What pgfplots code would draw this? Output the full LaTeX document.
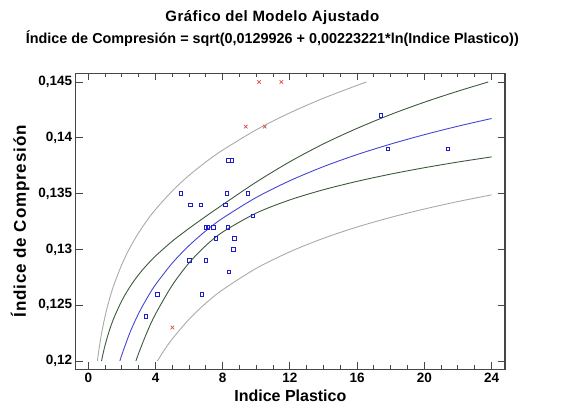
\documentclass[border=0pt]{standalone}
\usepackage{fontspec}
\setmainfont{Liberation Sans}
\usepackage{pgfplots}
\pgfplotsset{compat=1.18}
\definecolor{predgray}{RGB}{170,170,170}
\definecolor{confgreen}{RGB}{60,90,60}
\definecolor{fitblue}{RGB}{70,70,210}
\definecolor{ptblue}{RGB}{30,30,200}
\definecolor{ptred}{RGB}{220,80,80}
\definecolor{framegray}{RGB}{70,70,70}
\begin{document}
\begin{tikzpicture}
\begin{axis}[
  scale only axis,
  width=429.3pt, height=296pt,
  xmin=-0.75, xmax=24.8,
  ymin=0.11926, ymax=0.14578,
  axis line style={framegray, line width=1.2pt},
  tick style={framegray, line width=1pt},
  tick align=inside,
  major tick length=7pt,
  minor tick length=4pt,
  xtick={0,4,8,12,16,20,24},
  xticklabels={0,4,8,12,16,20,24},
  minor x tick num=3,
  ytick={0.12,0.125,0.13,0.135,0.14,0.145},
  yticklabels={{0,12},{0,125},{0,13},{0,135},{0,14},{0,145}},
  xticklabel pos=left, yticklabel pos=left,
  xtick pos=both, ytick pos=both,
  ticklabel style={font=\bfseries\fontsize{13.5}{15}\selectfont},
  xlabel={Indice Plastico},
  ylabel={\addfontfeature{LetterSpace=5}Índice de Compresión},
  xlabel style={font=\bfseries\fontsize{16}{18}\selectfont, yshift=-1pt},
  ylabel style={font=\bfseries\fontsize{17}{19}\selectfont, yshift=2pt},
  title={{\fontsize{15}{22.5}\selectfont\addfontfeature{LetterSpace=3}Gráfico del Modelo Ajustado}\\Índice de Compresión = sqrt(0,0129926 + 0,00223221*ln(Indice Plastico))},
  title style={font=\bfseries\fontsize{14.4}{22.5}\selectfont, align=center, xshift=-18pt, yshift=17pt},
  clip=true,
]
% upper prediction limit
\addplot[predgray, line width=0.9pt, smooth] coordinates {
 (0.544,0.12) (0.6,0.12067) (0.7,0.12168) (0.8,0.12256) (0.9,0.12333) (1.0,0.12403)
 (1.2,0.12523) (1.5,0.12672) (2,0.12867) (2.5,0.13022) (3,0.13150) (3.5,0.13261)
 (4,0.13358) (5,0.13524) (6,0.13664) (7,0.13784) (8,0.13890) (10,0.14072)
 (12,0.14224) (14,0.14355) (16,0.14470) (16.56,0.145)
};
% lower prediction limit
\addplot[predgray, line width=0.9pt, smooth] coordinates {
 (4.114,0.12) (4.5,0.12093) (5,0.12198) (6,0.12375) (7,0.12519) (8,0.12639)
 (10,0.12831) (12,0.12979) (14,0.13100) (16,0.13201) (18,0.13287) (20,0.13362)
 (22,0.13429) (24,0.13489)
};
% upper confidence limit
\addplot[confgreen, line width=0.9pt, smooth] coordinates {
 (0.787,0.12) (0.8,0.12011) (0.9,0.12080) (1.0,0.12142) (1.2,0.12248) (1.5,0.12377)
 (2,0.12542) (2.5,0.12670) (3,0.12775) (3.5,0.12863) (4,0.12941) (5,0.13074)
 (6,0.13189) (7,0.13297) (8,0.13401) (10,0.13604) (12,0.13786) (14,0.13946)
 (16,0.14085) (18,0.14209) (20,0.14319) (22,0.14418) (23.80,0.145)
};
% lower confidence limit
\addplot[confgreen, line width=0.9pt, smooth] coordinates {
 (2.834,0.12) (3,0.12071) (3.5,0.12260) (4,0.12421) (5,0.12680) (6,0.12880)
 (7,0.13035) (8,0.13156) (10,0.13326) (12,0.13444) (14,0.13535) (16,0.13610)
 (18,0.13675) (20,0.13732) (22,0.13783) (24,0.13829)
};
% fitted model
\addplot[fitblue, line width=0.9pt, smooth] coordinates {
 (1.879,0.12) (2,0.12058) (2.5,0.12263) (3,0.12428) (3.5,0.12565) (4,0.12684)
 (5,0.12878) (6,0.13035) (7,0.13167) (8,0.13280) (10,0.13466) (12,0.13616)
 (14,0.13742) (16,0.13850) (18,0.13944) (20,0.14028) (22,0.14104) (24,0.14173)
};
% observations
\addplot[only marks, mark=square, mark size=1.8pt, ptblue, mark options={line width=0.7pt}] coordinates {
 (8.35,0.138) (8.55,0.138) (5.5,0.135) (8.24,0.135) (9.49,0.135)
 (6.07,0.134) (6.69,0.134) (8.14,0.134) (9.79,0.133)
 (6.99,0.132) (7.11,0.132) (7.44,0.132) (8.30,0.132)
 (7.60,0.131) (8.69,0.131) (8.63,0.130) (6.03,0.129) (6.99,0.129)
 (8.37,0.128) (4.11,0.126) (6.75,0.126) (3.43,0.124)
 (17.42,0.142) (17.82,0.139) (21.39,0.139)
};
% excluded points
\addplot[only marks, mark=x, mark size=2.5pt, ptred, mark options={line width=0.7pt}] coordinates {
 (10.16,0.145) (11.49,0.145) (9.37,0.141) (10.50,0.141) (5.0,0.123)
};
\end{axis}
\path[use as bounding box] (-75.7pt,-45.7pt) rectangle (494.3pt,369.3pt);
\end{tikzpicture}
\end{document}
